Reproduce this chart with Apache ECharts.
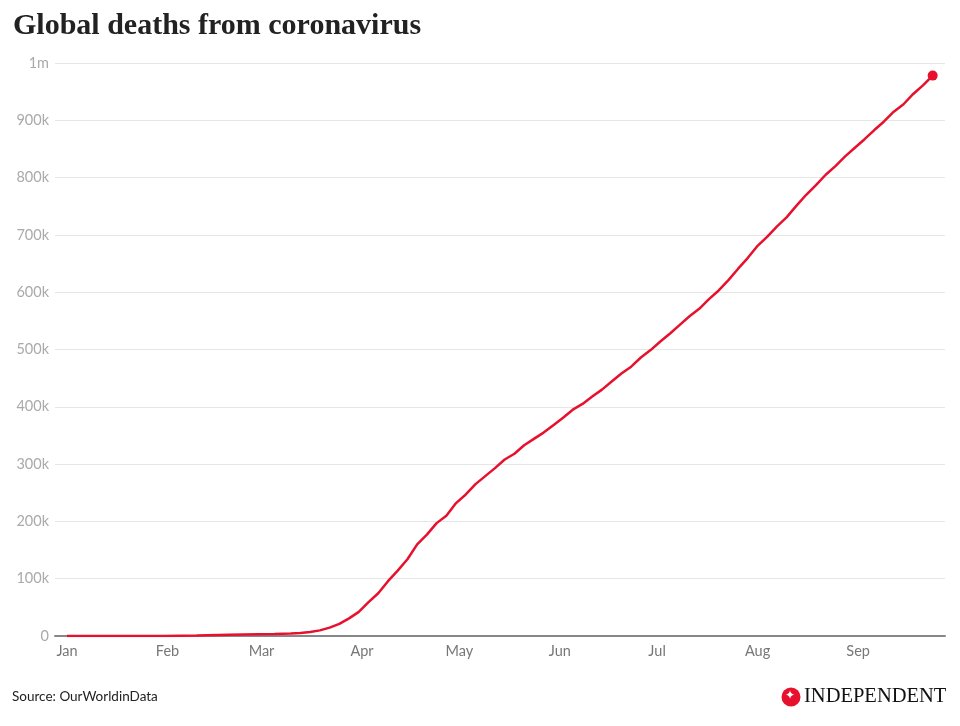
<!DOCTYPE html>
<html>
<head>
<meta charset="utf-8">
<script src="https://cdn.jsdelivr.net/npm/echarts@6/dist/echarts.min.js"></script>
<style>
html,body{margin:0;padding:0;background:#fff;}
#chart{width:960px;height:726px;}
</style>
</head>
<body>
<div id="chart"></div>
<script>
// Data (cumulative global deaths, 2020)
var dates = ['2020-01-01','2020-01-22','2020-01-31','2020-02-10','2020-02-20','2020-02-29','2020-03-05','2020-03-10','2020-03-13','2020-03-16','2020-03-19','2020-03-22','2020-03-25','2020-03-28','2020-03-31','2020-04-03','2020-04-06','2020-04-09','2020-04-12','2020-04-15','2020-04-18','2020-04-21','2020-04-24','2020-04-27','2020-04-30','2020-05-03','2020-05-06','2020-05-09','2020-05-12','2020-05-15','2020-05-18','2020-05-21','2020-05-24','2020-05-27','2020-05-30','2020-06-02','2020-06-05','2020-06-08','2020-06-11','2020-06-14','2020-06-17','2020-06-20','2020-06-23','2020-06-26','2020-06-29','2020-07-02','2020-07-05','2020-07-08','2020-07-11','2020-07-14','2020-07-17','2020-07-20','2020-07-23','2020-07-26','2020-07-29','2020-08-01','2020-08-04','2020-08-07','2020-08-10','2020-08-13','2020-08-16','2020-08-19','2020-08-22','2020-08-25','2020-08-28','2020-08-31','2020-09-03','2020-09-06','2020-09-09','2020-09-12','2020-09-15','2020-09-18','2020-09-21','2020-09-24'];
var deaths = [0,17,213,1013,2247,2941,3387,4262,5400,7100,9800,14600,21200,30700,42100,59000,74600,95700,114000,134000,160000,177000,197000,210000,232000,247000,265000,279000,293000,308000,318000,333000,344000,355000,368000,381000,395000,405000,418000,430000,444000,458000,470000,486000,499000,514000,528000,543000,558000,571000,588000,603000,621000,641000,660000,681000,697000,715000,731000,751000,770000,787000,805000,820000,837000,852000,867000,883000,898000,915000,928000,946000,961000,978000];
var monthTicks = ['2020-01-01','2020-02-01','2020-03-01','2020-04-01','2020-05-01','2020-06-01','2020-07-01','2020-08-01','2020-09-01'];
var monthNames = ['Jan','Feb','Mar','Apr','May','Jun','Jul','Aug','Sep'];
var yTicksLabels = {0:'0',100000:'100k',200000:'200k',300000:'300k',400000:'400k',500000:'500k',600000:'600k',700000:'700k',800000:'800k',900000:'900k',1000000:'1m'};

// convert a date string to a day number counted from 1 Jan 2020
function toDay(s){var p=s.split('-');return Math.round((Date.UTC(+p[0],+p[1]-1,+p[2])-Date.UTC(2020,0,1))/86400000);}
var seriesData = dates.map(function(d,i){return [toDay(d),deaths[i]];});
var lastPoint = [seriesData[seriesData.length-1]];
var tickDays = monthTicks.map(toDay);
var tickName = {};
tickDays.forEach(function(d,i){tickName[d]=monthNames[i];});

var chart = echarts.init(document.getElementById('chart'), null, {renderer:'canvas'});
var red = '#e8112d';
chart.setOption({
  animation:false,
  backgroundColor:'#fff',
  grid:{left:55,right:15,top:63,bottom:90,containLabel:false},
  title:{
    text:'Global deaths from coronavirus',
    left:8, top:6,
    textStyle:{fontFamily:'Liberation Serif',fontWeight:'bold',fontSize:30,color:'#222'}
  },
  xAxis:{
    type:'value',
    min:-3.7, max:270.8,
    axisLine:{show:true,onZero:false,lineStyle:{color:'#888',width:2}},
    axisTick:{show:false},
    splitLine:{show:false},
    axisLabel:{
      customValues: tickDays,
      formatter:function(v){return tickName[Math.round(v)]||'';},
      color:'#777',fontFamily:'Lato',fontSize:14.5,margin:8,
      showMinLabel:true,showMaxLabel:true
    }
  },
  yAxis:{
    type:'value',min:0,max:1000000,interval:100000,
    axisLine:{show:false},axisTick:{show:false},
    splitLine:{lineStyle:{color:'#e6e6e6',width:1}},
    axisLabel:{
      formatter:function(v){return yTicksLabels[v]!==undefined?yTicksLabels[v]:'';},
      color:'#aaa',fontFamily:'Lato',fontSize:14.5,margin:6
    }
  },
  series:[
    {type:'line',data:seriesData,showSymbol:false,symbol:'none',
     lineStyle:{color:red,width:2.5},itemStyle:{color:red},z:3},
    {type:'scatter',data:lastPoint,symbol:'circle',symbolSize:10,
     itemStyle:{color:red,opacity:1},z:4}
  ],
  graphic:[
    {type:'text',left:12,top:690,style:{text:'Source: OurWorldinData',fontFamily:'Lato',fontSize:13.5,fill:'#222'}},
    {type:'circle',shape:{cx:791,cy:697,r:9.5},style:{fill:red}},
    {type:'text',left:785,top:690,style:{text:'✦',fontSize:12,fill:'#fff'}},
    {type:'text',left:804,top:686,style:{text:'INDEPENDENT',fontFamily:'Liberation Serif',fontSize:20.5,fill:'#111'}}
  ]
});
</script>
</body>
</html>
